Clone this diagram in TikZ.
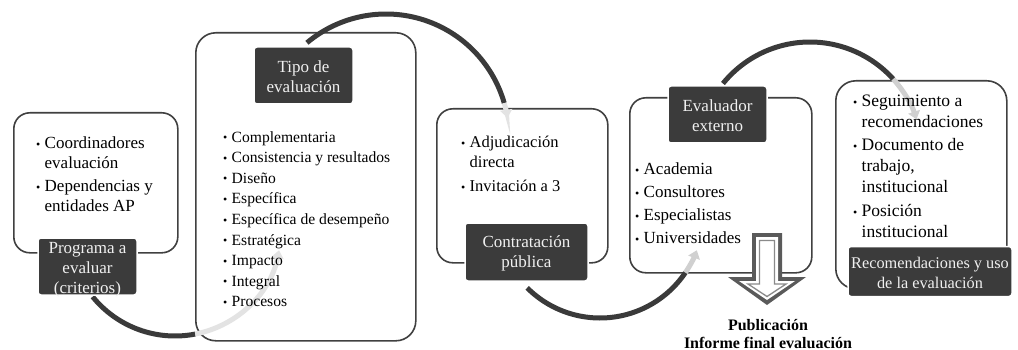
\documentclass[tikz,border=0pt]{standalone}
\usepackage{fontspec}
\setmainfont{Liberation Serif}
\usetikzlibrary{arrows.meta}
\definecolor{dk}{HTML}{3A3A3A}
\definecolor{bord}{HTML}{404040}
\definecolor{lab}{HTML}{3B3B3B}
\definecolor{ltA}{HTML}{E3E3E3}
\definecolor{ltB}{HTML}{D0D0D0}
\definecolor{mid}{HTML}{8A8A8A}
\definecolor{arw}{HTML}{5A5A5A}
\newcommand\bl{\makebox[8.5pt][l]{\raisebox{.05ex}{\fontsize{12}{12}\selectfont\textbullet}}}
\newcommand\ind{\hspace*{8.5pt}}
\begin{document}
\begin{tikzpicture}[x=1pt,y=-1pt,
  wbox/.style={draw=bord, line width=1.6, fill=white, rounded corners=16, inner sep=0, anchor=north west},
  labbox/.style={fill=lab, draw=white, line width=1.5, rounded corners=3, inner sep=0},
  labtxt/.style={text=white!94!black, align=center, inner sep=0, font=\fontsize{17}{20}\selectfont},
  listtxt/.style={anchor=north west, inner sep=0, align=left, text=black},
  arcd/.style={draw=dk, line width=5},
  tipA/.style={-{Triangle[width=12,length=8]}}]
\useasboundingbox (0,0) rectangle (1018,350);

% white boxes
\node[wbox, minimum width=164, minimum height=140] (b1) at (13,112) {};
\node[wbox, rounded corners=20, minimum width=220, minimum height=308] (b2) at (195,32) {};
\node[wbox, minimum width=171, minimum height=154] (b3) at (436,108) {};
\node[wbox, minimum width=182, minimum height=175] (b4) at (629,97) {};
\node[wbox, rounded corners=20, minimum width=171, minimum height=208] (b5) at (835,80) {};

% circular arrows
\coordinate (c1) at (175,230);
\coordinate (c2) at (386,137);
\coordinate (c3) at (600,215);
\coordinate (c4) at (810,154);
\draw[arcd] ([shift={(141:106)}]c1) arc[start angle=141, end angle=79, radius=106];
\draw[line width=5, draw=ltA, tipA] ([shift={(79:106)}]c1) arc[start angle=79, end angle=11, radius=106];
\draw[arcd] ([shift={(230:123)}]c2) arc[start angle=230, end angle=344, radius=123];
\draw[line width=5, draw=ltA, tipA] ([shift={(344:123)}]c2) arc[start angle=344, end angle=351, radius=123];
\draw[arcd] ([shift={(135:103)}]c3) arc[start angle=135, end angle=34, radius=103];
\draw[line width=5, draw=ltB, tipA] ([shift={(34:103)}]c3) arc[start angle=34, end angle=20, radius=103];
\draw[arcd] ([shift={(219:112)}]c4) arc[start angle=219, end angle=318, radius=112];
\draw[line width=5, draw=ltB, tipA] ([shift={(318:112)}]c4) arc[start angle=318, end angle=342, radius=112];

% big down arrow
\fill[arw] (752,233) -- (782,233) -- (782,277) -- (806,277) -- (767,305) -- (728,277) -- (752,277) -- cycle;
\fill[white] (756,237) -- (778,237) -- (778,281) -- (795,281) -- (767,300) -- (739,281) -- (756,281) -- cycle;
\draw[mid, line width=1.3, fill=white] (759.5,240.5) -- (774.5,240.5) -- (774.5,284) -- (786,284) -- (767,296.5) -- (748,284) -- (759.5,284) -- cycle;

% list texts
\node[listtxt, font=\fontsize{17}{20}\selectfont] (t1) at (36,137)
  {\bl Coordinadores\\\ind evaluación\\[3pt]\bl Dependencias y\\\ind entidades AP};
\node[listtxt, font=\fontsize{15.6}{20.6}\selectfont] (t2) at (223,131)
  {\bl Complementaria\\\bl Consistencia y resultados\\\bl Diseño\\\bl Específica\\\bl Específica de desempeño\\\bl Estratégica\\\bl Impacto\\\bl Integral\\\bl Procesos};
\node[listtxt, font=\fontsize{16.5}{20}\selectfont] (t3) at (461,136)
  {\bl Adjudicación\\\ind directa\\[4pt]\bl Invitación a 3};
\node[listtxt, font=\fontsize{17}{23}\selectfont] (t4) at (635,163)
  {\bl Academia\\\bl Consultores\\\bl Especialistas\\\bl Universidades};
\node[listtxt, font=\fontsize{17.5}{21}\selectfont] (t5) at (853,95)
  {\bl Seguimiento a\\\ind recomendaciones\\[2pt]\bl Documento de\\\ind trabajo,\\\ind institucional\\[3pt]\bl Posición\\\ind institucional};

% dark labels
\node[labbox, minimum width=99, minimum height=57] (l1) at (87.5,266.5) {};
\node[labtxt] (l1t) at ([yshift=-3pt]l1.center) {Programa a\\evaluar\\(criterios)};
\node[labbox, minimum width=99, minimum height=57] (l2) at (303.5,75.5) {};
\node[labtxt] (l2t) at ([yshift=-1pt]l2.center) {Tipo de\\evaluación};
\node[labbox, minimum width=123, minimum height=58] (l3) at (526.5,252) {};
\node[labtxt] (l3t) at ([yshift=-1pt]l3.center) {Contratación\\pública};
\node[labbox, minimum width=99, minimum height=57] (l4) at (717.5,114.5) {};
\node[labtxt] (l4t) at ([yshift=-1pt]l4.center) {Evaluador\\externo};
\node[labbox, minimum width=164, minimum height=50] (l5) at (930,271.5) {};
\node[labtxt, font=\fontsize{16.3}{20}\selectfont] (l5t) at ([yshift=-1pt]l5.center) {Recomendaciones y uso\\de la evaluación};

% bottom caption
\node[align=center, inner sep=0, font=\bfseries\fontsize{16}{18}\selectfont] (pub) at (768,334) {Publicación\\Informe final evaluación};
\end{tikzpicture}
\end{document}
